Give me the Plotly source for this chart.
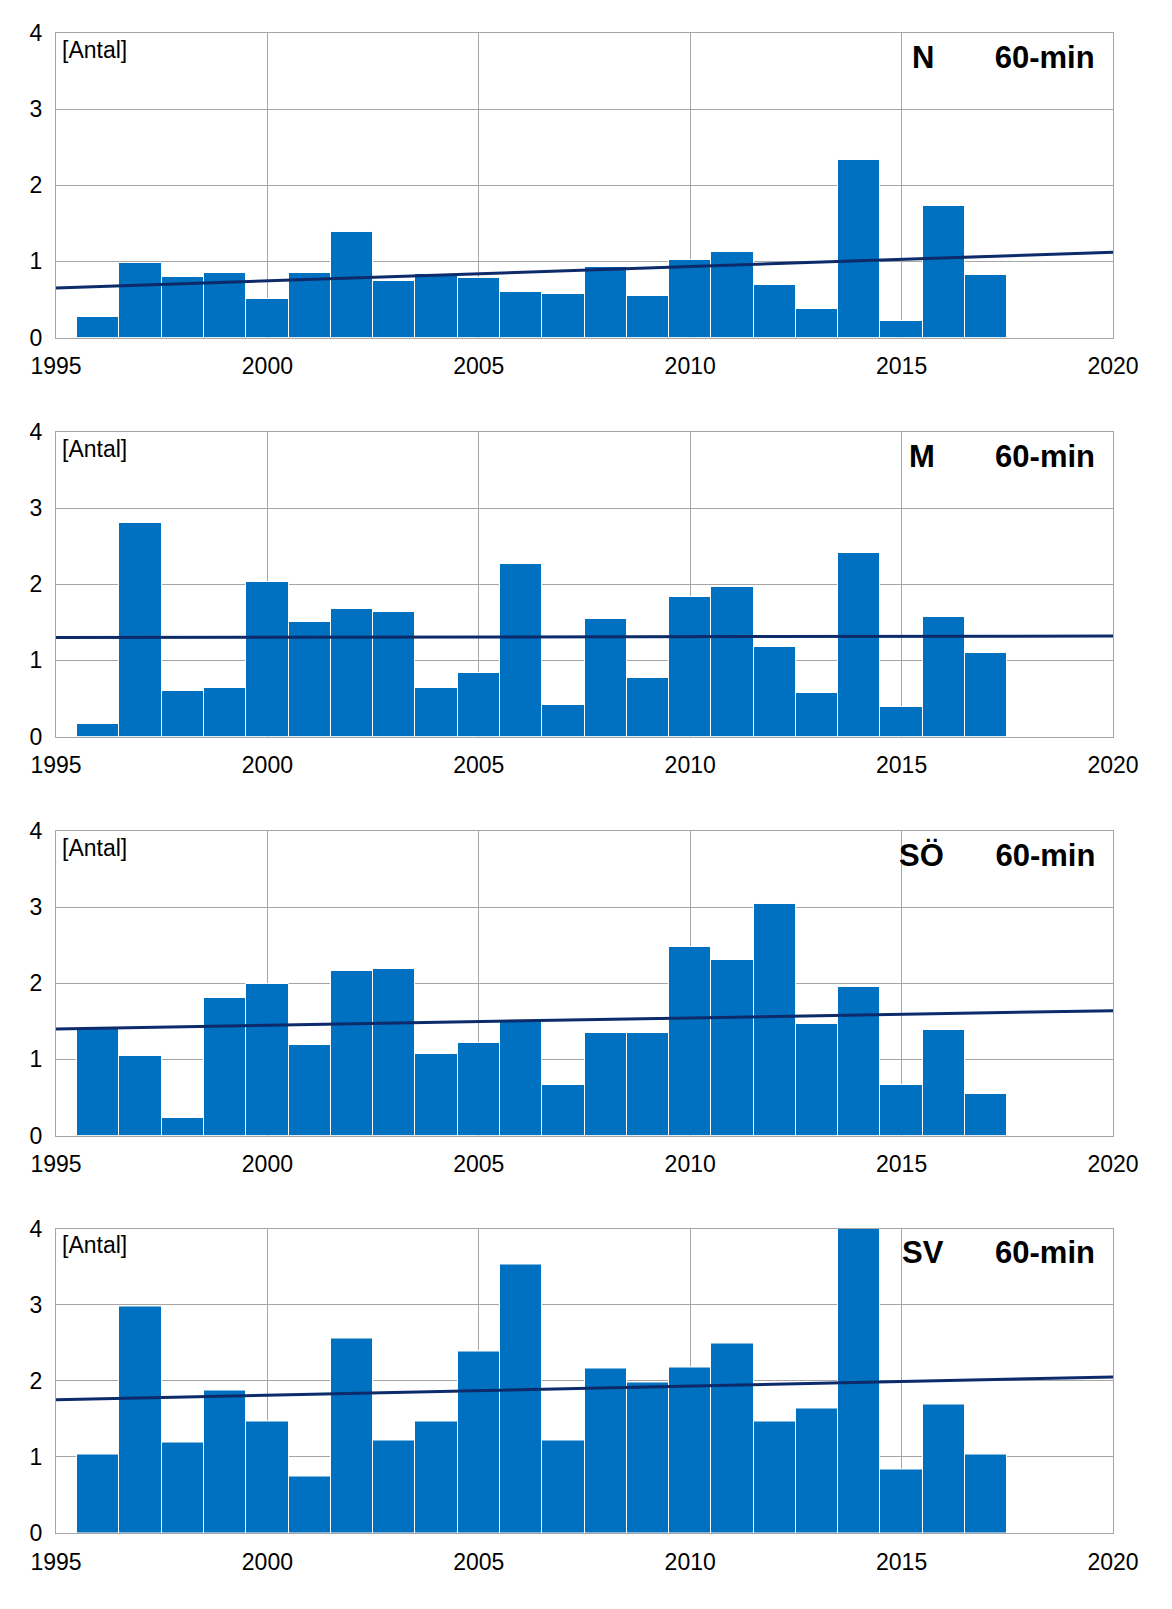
import plotly.graph_objects as go
from plotly.subplots import make_subplots

years = list(range(1996, 2018))
regions = ["N", "M", "SÖ", "SV"]
counts = {
    "N": [0.27, 0.98, 0.79, 0.85, 0.50, 0.85, 1.38, 0.74, 0.83, 0.78, 0.60,
          0.57, 0.92, 0.55, 1.02, 1.12, 0.69, 0.38, 2.33, 0.22, 1.73, 0.82],
    "M": [0.16, 2.80, 0.60, 0.64, 2.03, 1.51, 1.68, 1.64, 0.64, 0.83, 2.26,
          0.42, 1.55, 0.77, 1.83, 1.97, 1.18, 0.57, 2.41, 0.39, 1.57, 1.10],
    "SÖ": [1.40, 1.04, 0.23, 1.80, 1.99, 1.19, 2.16, 2.19, 1.07, 1.22, 1.50,
           0.67, 1.35, 1.35, 2.47, 2.31, 3.04, 1.47, 1.95, 0.67, 1.39, 0.55],
    "SV": [1.03, 2.97, 1.19, 1.87, 1.46, 0.74, 2.56, 1.21, 1.46, 2.38, 3.53,
           1.21, 2.16, 1.98, 2.18, 2.49, 1.46, 1.63, 4.00, 0.84, 1.69, 1.03],
}
trend_x = [1995, 2020]
trends = {
    "N": [0.65, 1.12],
    "M": [1.30, 1.32],
    "SÖ": [1.40, 1.64],
    "SV": [1.75, 2.05],
}
# gap between region label and "60-min" in the header
label_gap = {"N": 7, "M": 7, "SÖ": 6, "SV": 6}

BAR = "#0070C0"
TREND = "#0D2A6B"
GRID = "#A6A6A6"
FONT = "Liberation Sans, Arial, sans-serif"

fig = make_subplots(rows=4, cols=1)
domains = [[0.797, 1.0], [0.531, 0.734], [0.265, 0.468], [0.0, 0.203]]

for i, reg in enumerate(regions, start=1):
    fig.add_trace(go.Bar(
        x=years, y=counts[reg], width=1,
        marker=dict(color=BAR, line=dict(color="white", width=1)),
        showlegend=False,
    ), row=i, col=1)
    fig.add_trace(go.Scatter(
        x=trend_x, y=trends[reg], mode="lines",
        line=dict(color=TREND, width=3), showlegend=False,
    ), row=i, col=1)
    suffix = "" if i == 1 else str(i)
    fig.add_annotation(
        xref=f"x{suffix} domain", yref=f"y{suffix} domain", x=0.004, y=0.995,
        xanchor="left", yanchor="top", text="[Antal]", showarrow=False,
        font=dict(size=23, color="black", family=FONT),
    )
    fig.add_annotation(
        xref=f"x{suffix} domain", yref=f"y{suffix} domain", x=0.985, y=0.985,
        xanchor="right", yanchor="top", showarrow=False,
        text=f"<b>{reg}" + "&nbsp;" * label_gap[reg] + "60-min</b>",
        font=dict(size=31, color="black", family=FONT),
    )
    fig.update_xaxes(
        range=[1995, 2020], dtick=5, tick0=1995, showgrid=True,
        gridcolor=GRID, gridwidth=1, showline=True, linecolor=GRID, mirror=True,
        ticks="", ticklabelstandoff=8,
        tickfont=dict(size=23, color="black", family=FONT),
        row=i, col=1,
    )
    fig.update_yaxes(
        range=[0, 4], dtick=1, showgrid=True, gridcolor=GRID, gridwidth=1,
        showline=True, linecolor=GRID, mirror=True, zeroline=False,
        ticks="", ticklabelstandoff=8,
        tickfont=dict(size=23, color="black", family=FONT),
        domain=domains[i - 1], row=i, col=1,
    )

fig.update_layout(
    width=1172, height=1609, bargap=0,
    plot_bgcolor="white", paper_bgcolor="white",
    margin=dict(l=48, r=67, t=22, b=84),
)
fig.write_html("out.html")
